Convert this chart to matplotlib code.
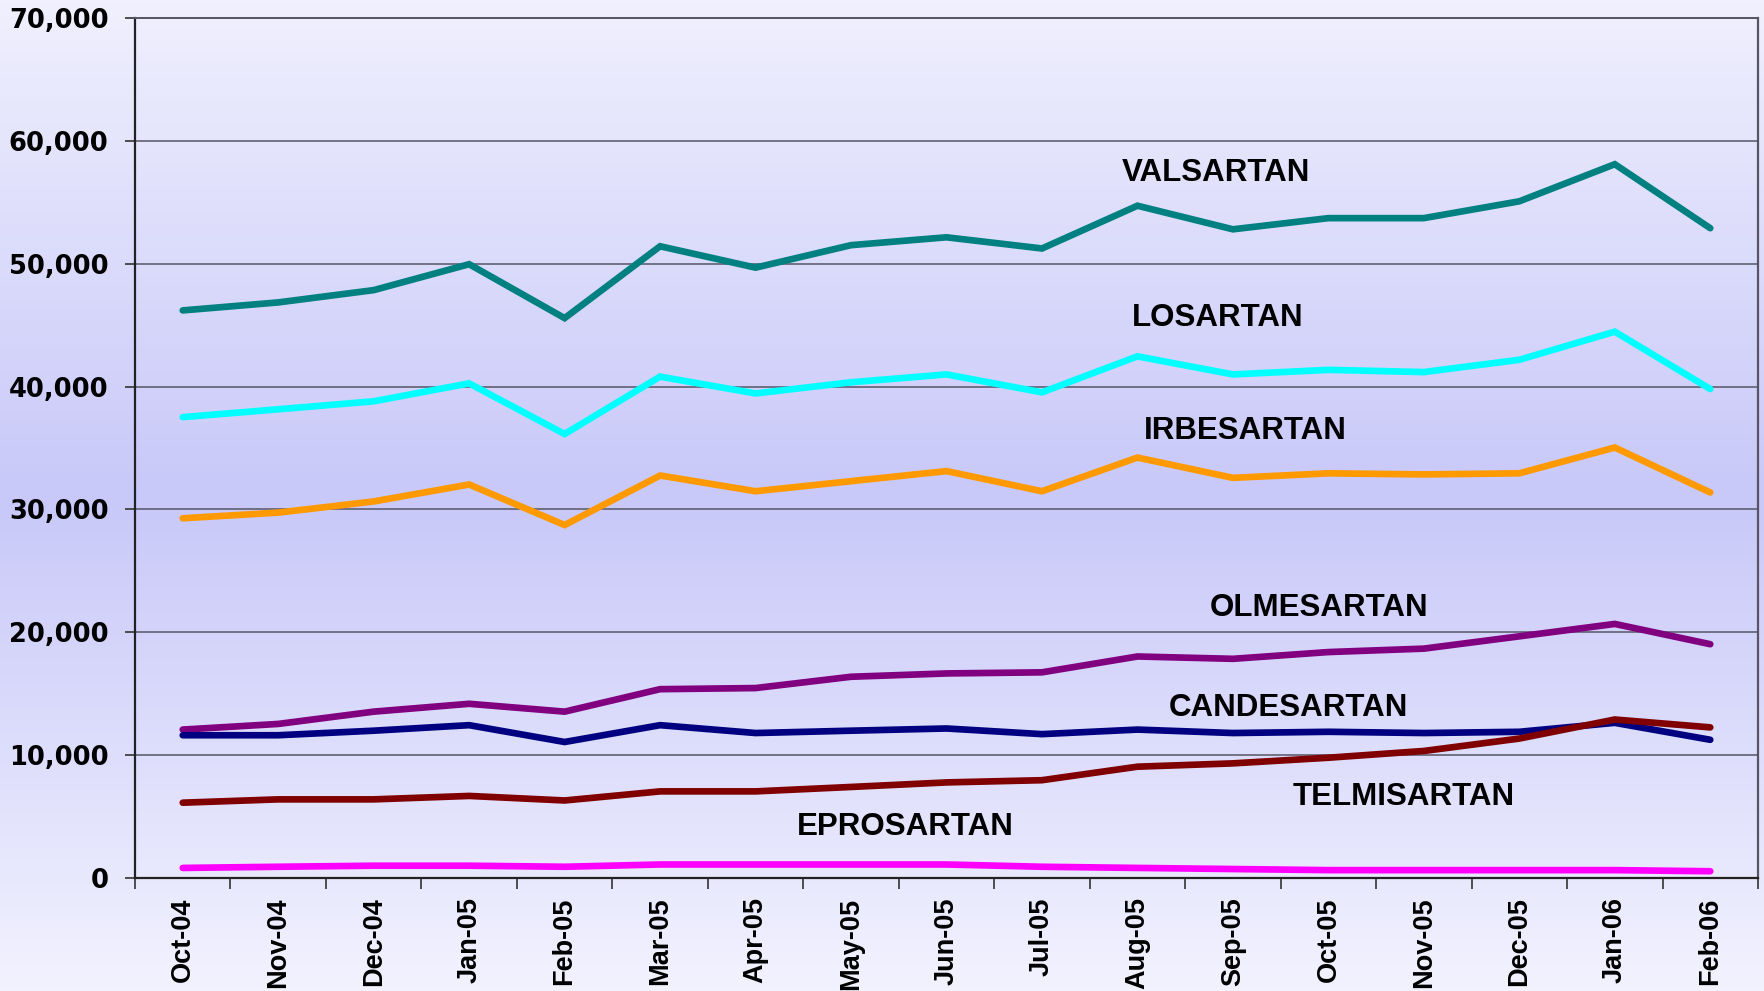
import numpy as np
import matplotlib
matplotlib.use("Agg")
import matplotlib.pyplot as plt
from matplotlib.colors import LinearSegmentedColormap

months = ["Oct-04", "Nov-04", "Dec-04", "Jan-05", "Feb-05", "Mar-05", "Apr-05", "May-05",
          "Jun-05", "Jul-05", "Aug-05", "Sep-05", "Oct-05", "Nov-05", "Dec-05", "Jan-06", "Feb-06"]

valsartan = [46200, 46850, 47850, 49960, 45570, 51420, 49680, 51510, 52150, 51240, 54720,
             52800, 53710, 53710, 55080, 58100, 52890]
losartan = [37510, 38150, 38800, 40260, 36140, 40810, 39440, 40350, 40990, 39530, 42460,
            40990, 41360, 41180, 42180, 44470, 39800]
irbesartan = [29280, 29740, 30650, 32030, 28730, 32760, 31480, 32300, 33120, 31480, 34220,
              32570, 32940, 32850, 32940, 35040, 31380]
olmesartan = [12080, 12540, 13540, 14180, 13540, 15370, 15460, 16380, 16650, 16740, 18030,
              17840, 18390, 18670, 19670, 20680, 19030]
candesartan = [11620, 11620, 11990, 12440, 11070, 12440, 11800, 11990, 12170, 11710, 12080,
               11800, 11900, 11800, 11900, 12630, 11250]
telmisartan = [6130, 6400, 6400, 6680, 6310, 7050, 7050, 7410, 7780, 7960, 9060,
               9330, 9790, 10340, 11350, 12900, 12260]
eprosartan = [820, 915, 1000, 1000, 915, 1100, 1100, 1100, 1100, 915, 820,
              730, 640, 640, 640, 640, 550]

series = [
    ("VALSARTAN", valsartan, "#008080", (10.82, 57370)),
    ("LOSARTAN", losartan, "#00FFFF", (10.84, 45570)),
    ("IRBESARTAN", irbesartan, "#FF9900", (11.13, 36420)),
    ("OLMESARTAN", olmesartan, "#800080", (11.90, 21960)),
    ("CANDESARTAN", candesartan, "#000080", (11.58, 13820)),
    ("TELMISARTAN", telmisartan, "#800000", (12.79, 6590)),
    ("EPROSARTAN", eprosartan, "#FF00FF", (7.57, 4120)),
]

W, H = 1764, 991
fig = plt.figure(figsize=(W / 100, H / 100), dpi=100)

# background gradient across whole figure
bg = fig.add_axes([0, 0, 1, 1], zorder=-10)
cmap = LinearSegmentedColormap.from_list(
    "bgr", [(0.0, "#F0F0FE"), (0.5, "#C8C8F9"), (1.0, "#F2F2FF")])
grad = np.linspace(0, 1, 256).reshape(-1, 1)
bg.imshow(grad, aspect="auto", cmap=cmap, extent=[0, 1, 0, 1], origin="upper")
bg.axis("off")

ax = fig.add_axes([135 / W, 1 - 878 / H, (1758 - 135) / W, (878 - 18) / H])
ax.set_facecolor("none")

x = np.arange(len(months))
for name, vals, col, (lx, ly) in series:
    ax.plot(x, vals, color=col, lw=4.8, solid_capstyle="round", solid_joinstyle="miter", zorder=3)
    ax.text(lx, ly, name, ha="center", va="center", fontsize=22.5, fontweight="bold",
            family="Liberation Sans", color="black", zorder=4)

ax.set_xlim(-0.5, len(months) - 0.5)
ax.set_ylim(0, 70000)
ax.set_yticks(np.arange(0, 70001, 10000))
ax.set_yticklabels([f"{v:,}" for v in range(0, 70001, 10000)],
                   fontsize=18.5, fontweight="heavy", family="DejaVu Sans")
ax.yaxis.grid(True, color="#555566", lw=1.1, zorder=1)
ax.set_axisbelow(True)

ax.set_xticks(x)
ax.set_xticklabels(months, rotation=90, fontsize=19.5, fontweight="bold", family="Liberation Sans")
ax.set_xticks(np.arange(-0.5, len(months), 1), minor=True)
ax.tick_params(axis="x", which="major", length=0, pad=14)
ax.tick_params(axis="x", which="minor", length=8, width=1.2, color="#333333", direction="out")
ax.tick_params(axis="y", length=7, width=1.2, color="#333333", pad=12)

for s in ["left", "bottom"]:
    ax.spines[s].set_color("#222222")
    ax.spines[s].set_linewidth(1.6)
ax.spines["right"].set_color("#555566")
ax.spines["right"].set_linewidth(1.6)
ax.spines["top"].set_color("#555566")
ax.spines["top"].set_linewidth(1.4)

fig.savefig("out.png", dpi=100)
